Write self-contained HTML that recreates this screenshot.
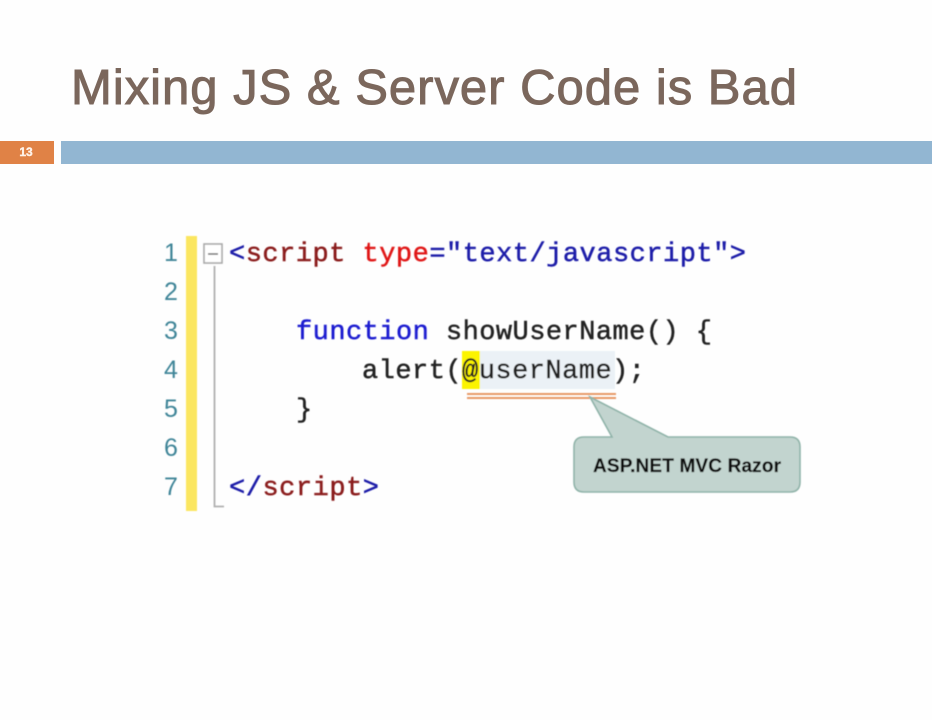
<!DOCTYPE html>
<html><head><meta charset="utf-8"><style>
html,body{margin:0;padding:0;background:#fff}
svg{display:block}
.c{font-family:"Liberation Mono",monospace;font-size:27px;stroke-width:.45px;paint-order:stroke}
.n{font-family:"Liberation Sans",sans-serif;font-size:25px;fill:#3f8598}
</style></head><body>
<svg width="932" height="720" viewBox="0 0 932 720" xmlns="http://www.w3.org/2000/svg">
<defs><filter id="b" x="-5%" y="-5%" width="110%" height="110%"><feGaussianBlur stdDeviation="0.4"/></filter></defs>
<rect width="932" height="720" fill="#fefefe"/>
<text x="71" y="104" font-family="'Liberation Sans',sans-serif" font-size="49" fill="#7b675c" stroke="#7b675c" stroke-width="1" textLength="726" lengthAdjust="spacing">Mixing JS &amp; Server Code is Bad</text>
<rect x="0" y="141" width="54" height="23" fill="#e08246"/>
<text x="26" y="156" text-anchor="middle" font-family="'Liberation Sans',sans-serif" font-size="12" font-weight="bold" fill="#fff3ea" stroke="#fff3ea" stroke-width=".4">13</text>
<rect x="61" y="141" width="871" height="23" fill="#92b6d2"/>

<g filter="url(#b)">
<rect x="186" y="236" width="11" height="275" fill="#fbe660"/>
<g class="n">
<text x="164" y="261">1</text><text x="164" y="300">2</text><text x="164" y="339">3</text><text x="164" y="378">4</text><text x="164" y="417">5</text><text x="164" y="456">6</text><text x="164" y="495">7</text>
</g>
<rect x="204" y="244" width="18" height="19" fill="#fff" stroke="#a8a8a8" stroke-width="1.6"/>
<line x1="208" y1="254" x2="218" y2="254" stroke="#777" stroke-width="1.6"/>
<path d="M214.5 266V506.5H224" fill="none" stroke="#b0b0b0" stroke-width="1.8"/>

<rect x="479" y="351" width="136" height="38" fill="#ebf1f6"/>
<rect x="462" y="351" width="18" height="38" fill="#fbf400"/>
<rect x="467" y="393" width="149" height="2" fill="#e89a66"/>
<rect x="467" y="397" width="149" height="2" fill="#e89a66"/>

<g class="c">
<text x="229" y="261" textLength="517" lengthAdjust="spacing"><tspan fill="#1a1aa8" stroke="#1a1aa8">&lt;</tspan><tspan fill="#8a1a1a" stroke="#8a1a1a">script</tspan><tspan> </tspan><tspan fill="#e01515" stroke="#e01515">type</tspan><tspan fill="#1a1aa8" stroke="#1a1aa8">="text/javascript"&gt;</tspan></text>
<text x="296" y="339" textLength="416" lengthAdjust="spacing"><tspan fill="#1a1ad0" stroke="#1a1ad0">function</tspan><tspan fill="#222" stroke="#222"> showUserName() {</tspan></text>
<text x="362" y="378" textLength="283" lengthAdjust="spacing" fill="#222" stroke="#222">alert(@userName);</text>
<text x="296" y="417" fill="#222" stroke="#222">}</text>
<text x="229" y="495" textLength="150" lengthAdjust="spacing"><tspan fill="#1a1aa8" stroke="#1a1aa8">&lt;/</tspan><tspan fill="#8a1a1a" stroke="#8a1a1a">script</tspan><tspan fill="#1a1aa8" stroke="#1a1aa8">&gt;</tspan></text>
</g>

<path d="M590 397L668 437H790Q800 437 800 447V482Q800 492 790 492H584Q574 492 574 482V447Q574 437 584 437H612Z" fill="#c2d4cf" stroke="#8fb3a9" stroke-width="1.6"/>
<text x="593" y="472" font-family="'Liberation Sans',sans-serif" font-size="19" font-weight="bold" fill="#111" stroke="#111" stroke-width=".2" textLength="188" lengthAdjust="spacing">ASP.NET MVC Razor</text>
</g>
</svg>
</body></html>
